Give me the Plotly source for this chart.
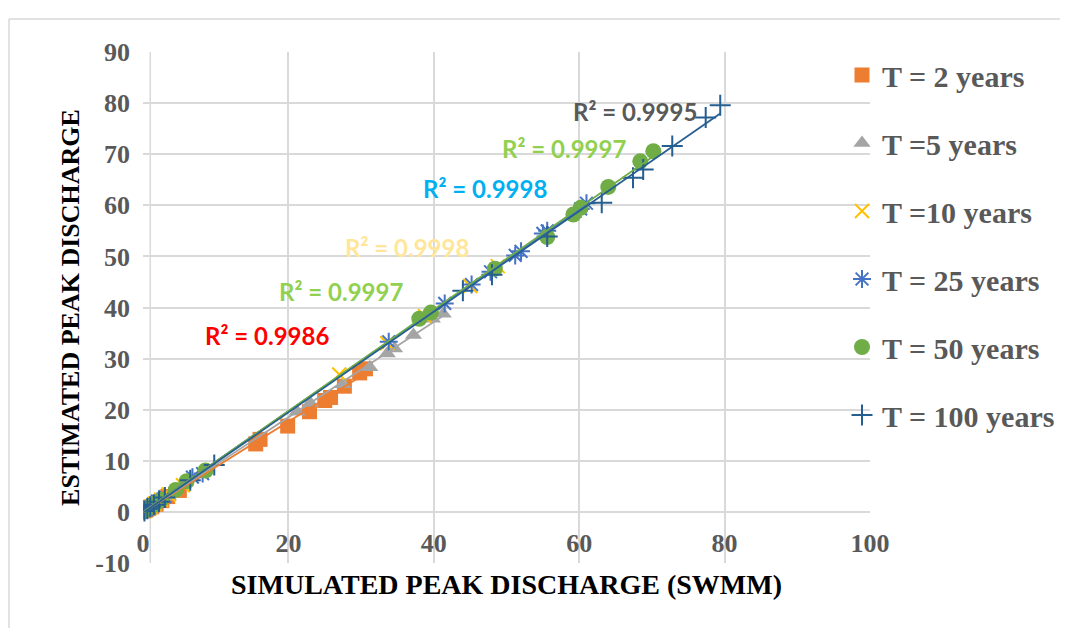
import numpy as np
import plotly.graph_objects as go

# ---------------- data ----------------
series_names = ["T = 2 years", "T =5 years", "T =10 years", "T = 25 years", "T = 50 years", "T = 100 years"]

t2_x = [0.1, 0.3, 0.5, 0.8, 1.2, 1.8, 2.6, 3.4, 5.0, 15.5, 16.1, 19.9, 22.9, 25.0, 25.8, 27.7, 29.8, 30.6]
t2_y = [0.2, 0.3, 0.5, 0.7, 1.0, 1.5, 2.2, 3.0, 4.2, 13.3, 14.2, 16.8, 19.6, 21.8, 22.4, 24.6, 27.2, 28.0]

t5_x = [0.2, 0.5, 0.9, 1.5, 2.3, 3.5, 4.2, 21.2, 23.0, 27.5, 31.2, 33.6, 34.6, 37.2, 39.8, 41.3]
t5_y = [0.2, 0.5, 0.8, 1.3, 2.0, 3.0, 3.8, 19.6, 21.3, 25.0, 28.3, 31.0, 32.0, 34.6, 37.8, 38.8]

t10_x = [0.2, 0.6, 1.0, 1.6, 2.5, 3.5, 5.5, 27.0, 33.6, 38.8, 45.0, 48.8]
t10_y = [0.2, 0.6, 1.0, 1.6, 2.4, 3.4, 5.2, 26.9, 33.0, 38.3, 44.2, 48.1]

t25_x = [0.2, 0.5, 0.9, 1.4, 2.0, 3.0, 6.8, 8.2, 33.8, 41.5, 45.2, 47.8, 51.2, 52.0, 55.0, 55.6, 60.2, 61.0]
t25_y = [0.3, 0.5, 0.9, 1.5, 2.1, 3.0, 6.8, 7.5, 33.3, 40.8, 44.5, 47.0, 50.2, 51.0, 54.5, 55.0, 59.3, 60.4]

t50_x = [0.1, 0.4, 0.8, 1.2, 1.8, 2.5, 4.5, 6.0, 8.6, 38.0, 39.6, 48.4, 55.6, 59.2, 60.2, 64.0, 68.4, 70.2]
t50_y = [0.1, 0.4, 0.8, 1.2, 1.7, 2.4, 4.3, 6.0, 8.1, 37.8, 39.0, 47.6, 53.8, 58.2, 59.5, 63.6, 68.6, 70.6]

t100_x = [0.2, 0.6, 1.0, 1.5, 2.2, 3.0, 6.5, 9.8, 44.0, 48.0, 55.6, 63.1, 67.4, 68.8, 72.8, 77.4, 79.4]
t100_y = [0.2, 0.6, 1.0, 1.4, 2.0, 2.8, 6.2, 9.2, 43.3, 46.4, 53.9, 60.5, 65.4, 67.0, 71.6, 77.2, 79.6]

r2_texts = ["R² = 0.9986", "R² = 0.9997", "R² = 0.9998", "R² = 0.9998", "R² = 0.9997", "R² = 0.9995"]

x_ticks = [0, 20, 40, 60, 80, 100]
y_ticks = [-10, 0, 10, 20, 30, 40, 50, 60, 70, 80, 90]

# ---------------- styles ----------------
colors = ["#ED7D31", "#A5A5A5", "#FFC000", "#4472C4", "#70AD47", "#255E91"]
symbols = ["square", "triangle-up", "x-thin-open", "asterisk-open", "circle", "cross-thin-open"]
sizes = [15, 15, 14, 15, 16, 15]
line_w = [0, 0, 2, 2, 0, 2]

r2_colors = ["#FF0000", "#92D050", "#FFE699", "#00B0F0", "#92D050", "#595959"]
r2_pos = [(17.1, 34.6), (27.2, 43.2), (36.3, 51.7), (47.0, 63.2), (57.9, 71.2), (67.7, 78.3)]

xs = [t2_x, t5_x, t10_x, t25_x, t50_x, t100_x]
ys = [t2_y, t5_y, t10_y, t25_y, t50_y, t100_y]

fig = go.Figure()

for i in range(6):
    fig.add_trace(go.Scatter(
        x=xs[i], y=ys[i], mode="markers", name=series_names[i],
        legendgroup="g%d" % i,
        marker=dict(symbol=symbols[i], size=sizes[i], color=colors[i],
                    line=dict(color=colors[i], width=line_w[i])),
    ))

# linear trendlines
for i in range(6):
    xa = np.array(xs[i]); ya = np.array(ys[i])
    m, c = np.polyfit(xa, ya, 1)
    xl = np.array([xa.min(), xa.max()])
    fig.add_trace(go.Scatter(
        x=xl, y=m * xl + c, mode="lines", showlegend=False,
        legendgroup="g%d" % i,
        line=dict(color=colors[i], width=1.75), hoverinfo="skip",
    ))

for txt, col, (ax, ay) in zip(r2_texts, r2_colors, r2_pos):
    fig.add_annotation(x=ax, y=ay, xref="x", yref="y", text="<b>%s</b>" % txt,
                       showarrow=False, font=dict(family="Lato", size=24, color=col))

# page body has an 8px margin: figure drawn at (8, 8) in the window
OFF = 8
W, H = 1068 - OFF, 628 - OFF
L, T = 143 - OFF, 52 - OFF
R = W - (870 - OFF)
B = H - (563 - OFF)
pw, ph = W - L - R, H - T - B

def px_x(p):
    return (p - OFF - L) / pw

def px_y(p):
    return (H - B - (p - OFF)) / ph

fig.update_layout(
    width=W, height=H,
    margin=dict(l=L, r=R, t=T, b=B, autoexpand=False),
    paper_bgcolor="white", plot_bgcolor="white",
    showlegend=True,
    legend=dict(x=px_x(842), y=px_y(49), xanchor="left", yanchor="top",
                bgcolor="rgba(0,0,0,0)", tracegroupgap=26, maxheight=560,
                font=dict(family="Liberation Serif", size=30, color="#595959", weight="bold"),
                traceorder="grouped"),
    xaxis=dict(range=[0, 100], tickvals=x_ticks, ticktext=[str(v) for v in x_ticks],
               showgrid=True, gridcolor="#D9D9D9", gridwidth=2, zeroline=False,
               showline=False, ticks="", anchor="free", position=0.1,
               ticklabelstandoff=13,
               tickfont=dict(family="Liberation Serif", size=26, color="#595959", weight="bold"),
               title=dict(text="SIMULATED PEAK DISCHARGE (SWMM)", standoff=17,
                          font=dict(family="Liberation Serif", size=28, color="#000000", weight="bold"))),
    yaxis=dict(range=[-10, 90], tickvals=y_ticks, ticktext=[str(v) for v in y_ticks],
               showgrid=True, gridcolor="#D9D9D9", gridwidth=2, zeroline=False,
               showline=False, ticks="", ticklabelstandoff=12,
               tickfont=dict(family="Liberation Serif", size=26, color="#595959", weight="bold"),
               title=dict(text="ESTIMATED PEAK DISCHARGE", standoff=8,
                          font=dict(family="Liberation Serif", size=26, color="#000000", weight="bold"))),
    shapes=[
        dict(type="line", xref="paper", yref="paper", x0=px_x(9), x1=px_x(1100), y0=px_y(19), y1=px_y(19),
             line=dict(color="#D9D9D9", width=1.5)),
        dict(type="line", xref="paper", yref="paper", x0=px_x(9), x1=px_x(9), y0=px_y(19), y1=px_y(700),
             line=dict(color="#D9D9D9", width=1.5)),
        dict(type="line", xref="x", yref="paper", x0=1, x1=1, y0=0, y1=1, layer="below",
             line=dict(color="#D9D9D9", width=1.5)),
    ],
)

fig.write_html("out.html")
